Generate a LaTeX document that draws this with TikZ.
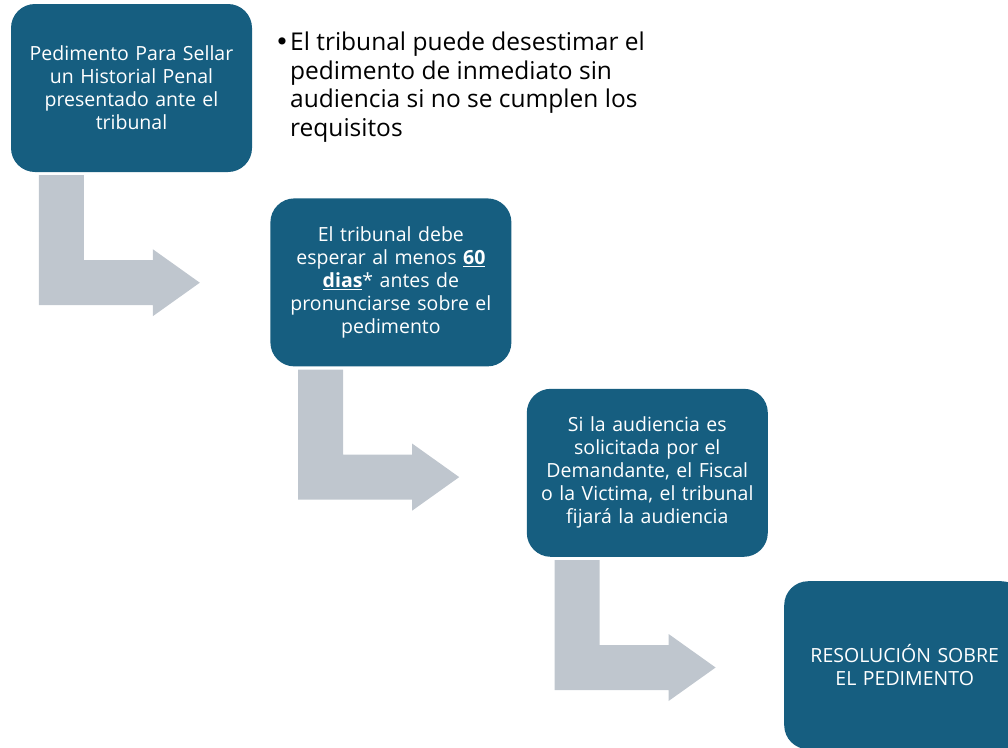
\documentclass[tikz,border=0pt]{standalone}
\usepackage{fontspec}
\setmainfont{Open Sans}
\newfontfamily\bulletfont{DejaVu Sans}
\usetikzlibrary{positioning,calc}
\definecolor{boxteal}{RGB}{22,94,128}
\definecolor{arrowgray}{RGB}{191,198,206}
\tikzset{
  stepbox/.style={rectangle, rounded corners=24pt, fill=boxteal, text=white,
    minimum width=241pt, minimum height=168pt, text width=228pt, align=center,
    font=\fontsize{19.5}{23}\selectfont},
  bentarrow/.style={fill=arrowgray},
}
% bent arrow hanging under a box, from its south west corner
\newcommand{\bendarrow}[1]{%
  \fill[bentarrow] ($(#1.south west)+(28,3)$) coordinate (s)
    -- ++(45,0) -- ++(0,85) -- ++(69,0) -- ++(0,-11) -- ++(47,33.5)
    -- ++(-47,33.5) -- ++(0,-11) -- ++(-114,0) -- cycle;}

\begin{document}
\begin{tikzpicture}[x=1pt, y=-1pt]
    \clip (0,0) rectangle (1008,747);
    \node[stepbox] (filed) at (131.5,88) {Pedimento Para Sellar\\ un Historial Penal\\ presentado ante el\\ tribunal};
    \node[stepbox, below right=26pt and 18pt of filed] (wait) {El tribunal debe\\ esperar al menos \underline{\textbf{60}}\\ \underline{\textbf{dias}}* antes de\\ pronunciarse sobre el\\ pedimento};
    \node[stepbox, below right=22pt and 15pt of wait] (hearing) {Si la audiencia es\\ solicitada por el\\ Demandante, el Fiscal\\ o la Victima, el tribunal\\ fijará la audiencia};
    \node[stepbox, below right=24pt and 16pt of hearing] (ruling) {RESOLUCIÓN SOBRE\\ EL PEDIMENTO};
    \node[anchor=north west, align=left, inner sep=0pt, font=\fontsize{24.5}{28.5}\selectfont] (note) at (290,32)
      {\llap{\bulletfont•\kern1pt}El tribunal puede desestimar el\\ pedimento de inmediato sin\\ audiencia si no se cumplen los\\ requisitos};
    \bendarrow{filed}
    \bendarrow{wait}
    \bendarrow{hearing}
\end{tikzpicture}
\end{document}
